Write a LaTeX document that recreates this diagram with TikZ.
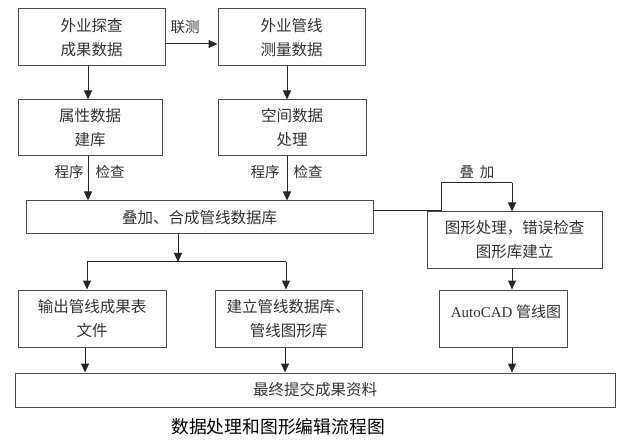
\documentclass[tikz,border=0pt]{standalone}
\usepackage{fontspec}
\setmainfont{Liberation Serif}
\newfontfamily\cjk{Noto Sans CJK SC}
\usetikzlibrary{arrows.meta}
\begin{document}
\begin{tikzpicture}[x=1pt,y=-1pt,
  box/.style={draw=black!70, line width=1pt, inner sep=0pt, align=center, text=black!80,
    font=\cjk\fontsize{15.5}{24}\selectfont},
  lab/.style={inner sep=0pt, text=black!80, font=\cjk\fontsize{14.5}{16}\selectfont},
  conn/.style={draw=black!85, line width=1pt},
  arr/.style={conn, -{Triangle[length=9pt,width=8pt]}}]
\useasboundingbox (0,0) rectangle (628,443);
\fill[white] (0,0) rectangle (628,443);
% boxes
\node[box, minimum width=147pt, minimum height=57pt] (b1) at (91.5,37.5) {外业探查\\成果数据};
\node[box, minimum width=147pt, minimum height=57pt] (b2) at (291.5,37.5) {外业管线\\测量数据};
\node[box, minimum width=144pt, minimum height=56pt] (b3) at (90,128) {属性数据\\建库};
\node[box, minimum width=148pt, minimum height=56pt] (b4) at (292,128) {空间数据\\处理};
\node[box, minimum width=347pt, minimum height=33pt] (b5) at (199.5,217.5) {叠加、合成管线数据库};
\node[box, minimum width=175pt, minimum height=56pt] (b6) at (514.5,240) {图形处理，错误检查\\图形库建立};
\node[box, minimum width=128pt, minimum height=57pt] (b7) at (503,318.5) {};
\node[lab, font=\fontsize{15}{18}\selectfont] (t7) at (506,312) {AutoCAD {\cjk 管线图}};
\node[box, minimum width=148pt, minimum height=57pt] (b8) at (92,318.5) {输出管线成果表\\文件};
\node[box, minimum width=147pt, minimum height=57pt] (b9) at (288.5,318.5) {建立管线数据库、\\管线图形库};
\node[box, minimum width=600pt, minimum height=34pt] (b10) at (315,390) {最终提交成果资料};
% labels
\node[lab] (l1) at (185,27) {联测};
\node[lab] (l2) at (69,172) {程序};
\node[lab] (l3) at (110,172) {检查};
\node[lab] (l4) at (265,172) {程序};
\node[lab] (l5) at (308,172) {检查};
\node[lab] (l6) at (477,172) {叠\hspace{0.4em}加};
\node[lab, font=\cjk\fontsize{17.8}{20}\selectfont, text=black] (title) at (278,427) {数据处理和图形编辑流程图};
% coordinates
\coordinate (ax) at (88,0);
\coordinate (bx) at (287,0);
\coordinate (split) at (178,262);
\coordinate (sl) at (87,262);
\coordinate (sr) at (286,262);
\coordinate (r1) at (373,211);
\coordinate (r2) at (441,211);
\coordinate (r3) at (441,183);
\coordinate (r4) at (512,183);
% connectors
\draw[arr] ([yshift=-6.5pt]b1.east) -- ([yshift=-6.5pt]b1.east -| b2.west);
\draw[arr] (ax |- b1.south) -- (ax |- b3.north);
\draw[arr] (bx |- b2.south) -- (bx |- b4.north);
\draw[arr] (ax |- b3.south) -- (ax |- b5.north);
\draw[arr] (bx |- b4.south) -- (bx |- b5.north);
\draw[arr] (split |- b5.south) -- (split);
\draw[conn] (sl) -- (sr);
\draw[arr] (sl) -- (sl |- b8.north);
\draw[arr] (sr) -- (sr |- b9.north);
\draw[arr] ([xshift=-7pt]b8.south) -- ([xshift=-7pt]b8.south |- b10.north);
\draw[arr] ([xshift=-3.5pt]b9.south) -- ([xshift=-3.5pt]b9.south |- b10.north);
\draw[conn] (r1) -- (r2) -- (r3) -- (r4);
\draw[arr] (r4) -- (r4 |- b6.north);
\draw[arr] (r4 |- b6.south) -- (r4 |- b7.north);
\draw[arr] (r4 |- b7.south) -- (r4 |- b10.north);
\end{tikzpicture}
\end{document}
